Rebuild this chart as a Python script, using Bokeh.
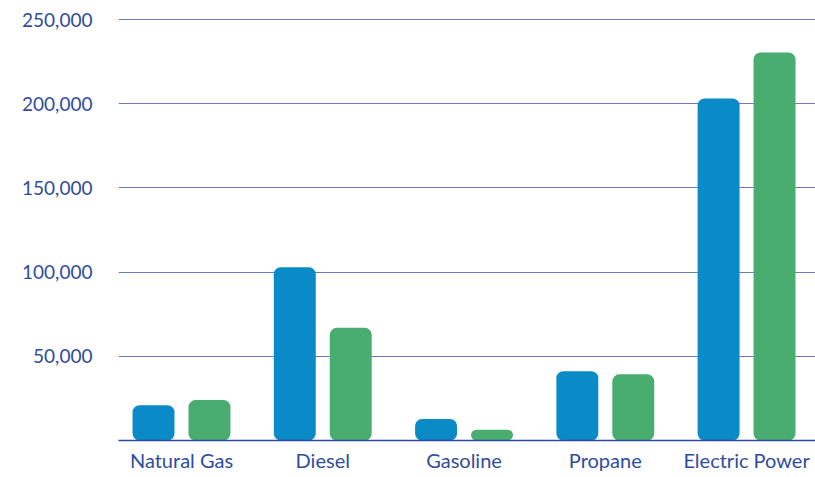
from bokeh.plotting import figure
from bokeh.models import ColumnDataSource, FixedTicker, NumeralTickFormatter, Range1d
from bokeh.embed import file_html
from bokeh.resources import INLINE

categories = ["Natural Gas", "Diesel", "Gasoline", "Propane", "Electric Power"]
series_a = [20900, 102900, 12750, 41200, 203100]
series_b = [24000, 66900, 6400, 39300, 230400]
y_ticks = [50000, 100000, 150000, 200000, 250000]

BLUE = "#0b8ac8"
GREEN = "#48ad6f"
TEXT = "#2f4d9e"
FONT = "Lato"

idx = list(range(len(categories)))
src = ColumnDataSource(dict(
    xa=[i - 0.198 for i in idx],
    xb=[i + 0.198 for i in idx],
    a=series_a,
    b=series_b,
))

p = figure(
    output_backend="svg", toolbar_location=None,
    frame_width=697, frame_height=432,
    min_border_left=118, min_border_right=0, min_border_top=8, min_border_bottom=20,
    x_range=Range1d(-0.446, 4.488), y_range=Range1d(0, 256560),
    outline_line_color=None,
)

p.vbar(x="xa", top="a", width=0.297, source=src, fill_color=BLUE, line_color=None, border_radius=7)
p.vbar(x="xb", top="b", width=0.297, source=src, fill_color=GREEN, line_color=None, border_radius=7)

p.xgrid.grid_line_color = None
p.ygrid.ticker = FixedTicker(ticks=y_ticks)
p.ygrid.grid_line_color = "#6b7bbd"
p.ygrid.grid_line_width = 1

p.yaxis.ticker = FixedTicker(ticks=y_ticks)
p.yaxis.formatter = NumeralTickFormatter(format="0,0")
p.yaxis.axis_line_color = None
p.yaxis.major_tick_line_color = None
p.yaxis.minor_tick_line_color = None
p.yaxis.major_tick_out = 0
p.yaxis.major_label_standoff = 26
p.yaxis.major_label_text_font = FONT
p.yaxis.major_label_text_font_size = "19px"
p.yaxis.major_label_text_color = TEXT

p.xaxis.ticker = FixedTicker(ticks=idx)
p.xaxis.major_label_overrides = {i: c for i, c in zip(idx, categories)}
p.xaxis.axis_line_color = "#2b4a9f"
p.xaxis.axis_line_width = 1.5
p.xaxis.major_tick_line_color = None
p.xaxis.minor_tick_line_color = None
p.xaxis.major_tick_out = 0
p.xaxis.major_label_standoff = 7
p.xaxis.major_label_text_font = FONT
p.xaxis.major_label_text_font_size = "20px"
p.xaxis.major_label_text_color = TEXT

open("out.html", "w").write(file_html(p, INLINE))
